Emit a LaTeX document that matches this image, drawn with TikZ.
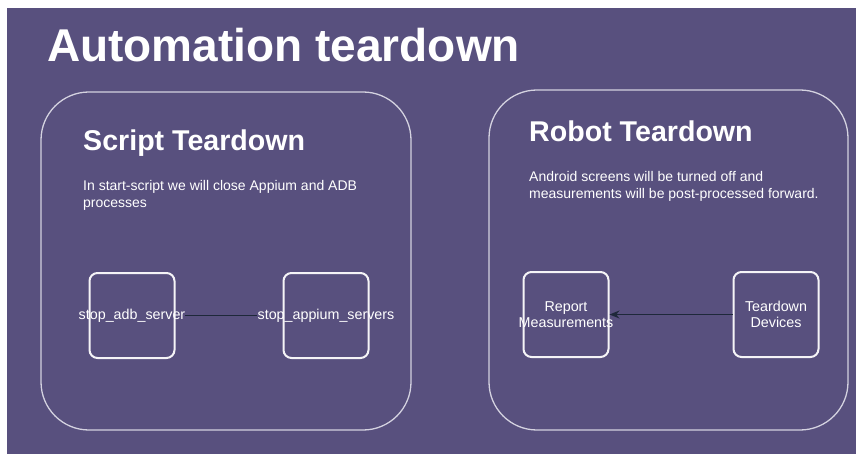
\documentclass[tikz,border=0pt]{standalone}
\usepackage{fontspec}
\setmainfont{Liberation Sans}
\usetikzlibrary{arrows.meta,positioning}
\definecolor{slate}{RGB}{88,80,126}
\definecolor{panelline}{RGB}{212,210,224}
\definecolor{wire}{RGB}{30,40,58}
\tikzset{
	panel/.style={draw=panelline, line width=1.3pt, rounded corners=48pt, inner sep=0pt},
	task/.style={draw=white!94!slate, line width=2pt, rounded corners=8pt,
		minimum width=85pt, minimum height=85pt, inner sep=0pt},
	tasklabel/.style={text=white, font=\fontsize{14.3}{16.5}\selectfont, align=center, inner sep=0pt},
	heading/.style={text=white, font=\fontsize{28.6}{32}\selectfont\bfseries, anchor=base west, inner sep=0pt},
	blurb/.style={text=white, font=\fontsize{14}{16.5}\selectfont, align=left, anchor=base west, inner sep=0pt},
	wire/.style={draw=wire, line width=1.6pt},
}
\begin{document}
\begin{tikzpicture}[x=1pt,y=-1pt]
	\useasboundingbox (0,0) rectangle (856,454);
	\fill[slate] (7,8) rectangle (856,454); % background
	
	\node[anchor=base west, inner sep=0pt, text=white, font=\fontsize{46}{50}\selectfont\bfseries] (title) at (47,62) {Automation teardown};
	
	% script side
	\node[panel, minimum width=370pt, minimum height=338pt] (scriptpanel) at (226,261) {};
	\node[heading] (scripthead) at (83,151) {Script Teardown};
	\node[blurb] (scriptnote) at (83,207.5) {In start-script we will close Appium and ADB\\processes}; % base = last line
	\node[task] (adb) at (132,315.5) {};
	\node[task, right=107pt of adb] (appium) {};
	\node[tasklabel] (adblabel) at (adb) {stop\_adb\_server};
	\node[tasklabel] (appiumlabel) at (appium) {stop\_appium\_servers};
	\draw[wire] (appiumlabel.west) -- (appiumlabel.west -| adblabel.east);
	
	% robot side
	\node[panel, minimum width=359pt, minimum height=340pt] (robotpanel) at (668.5,260) {};
	\node[heading] (robothead) at (529,142) {Robot Teardown};
	\node[blurb] (robotnote) at (529,198.5) {Android screens will be turned off and\\measurements will be post-processed forward.};
	\node[task] (report) at (566,314.5) {};
	\node[task, right=123pt of report] (devices) {};
	\node[tasklabel] (reportlabel) at (report) {Report\\Measurements};
	\node[tasklabel] (deviceslabel) at (devices) {Teardown\\Devices};
	\draw[wire, -{Stealth[length=10pt, width=8pt]}] (devices) -- (report);
\end{tikzpicture}
\end{document}
